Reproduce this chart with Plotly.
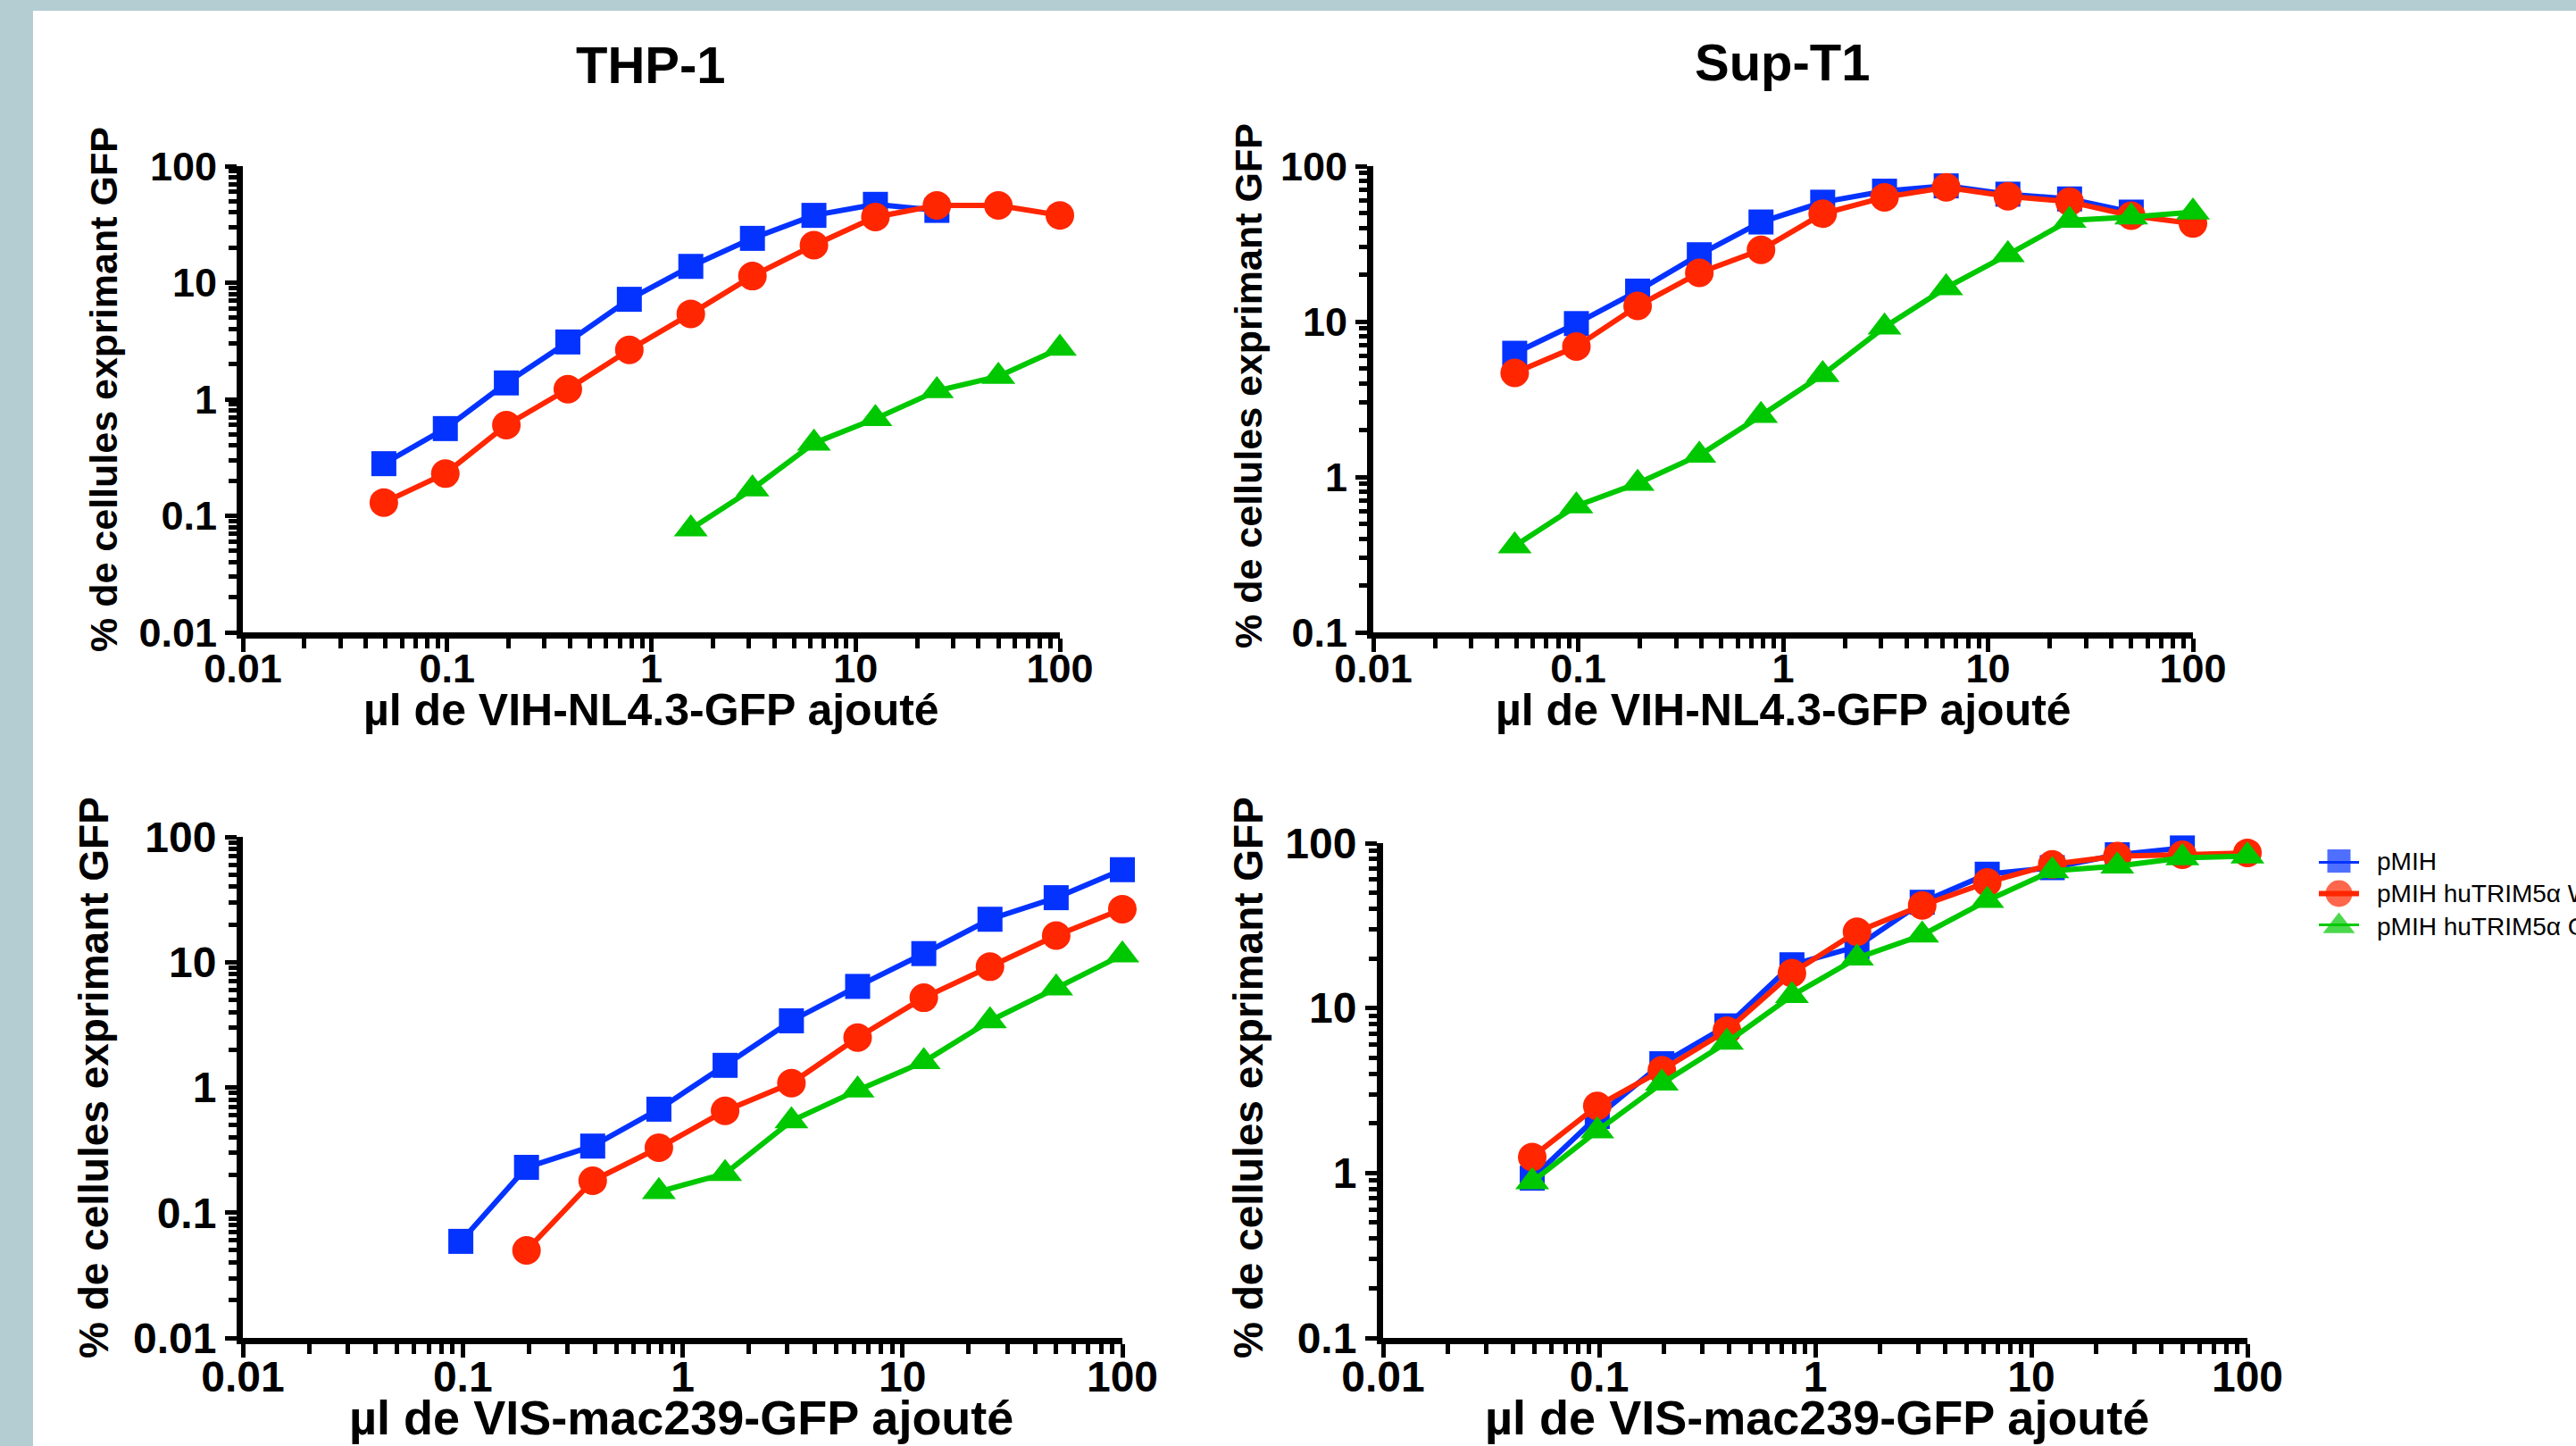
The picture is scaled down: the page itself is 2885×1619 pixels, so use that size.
import plotly.graph_objects as go

W, H = 2885, 1619
FONT = "Liberation Sans, Arial, Helvetica, sans-serif"

# ---------------- data ----------------
DOSES = [0.049, 0.098, 0.195, 0.39, 0.78, 1.56, 3.125, 6.25, 12.5, 25, 50, 100]

SERIES_NAMES = ["pMIH", "pMIH huTRIM5α WT", "pMIH huTRIM5α G"]
COLORS = ["#0433FF", "#FF2600", "#00C800"]
SYMBOLS = ["square", "circle", "triangle-up"]
SIZES = [28, 32, 33]

# THP-1, VIH-NL4.3
thp1_hiv_pmih = [0.28, 0.56, 1.38, 3.1, 7.2, 13.8, 24, 37.8, 47, 41.7]
thp1_hiv_wt = [0.13, 0.23, 0.6, 1.22, 2.65, 5.4, 11.4, 21, 36.6, 46, 46, 37.8]
thp1_hiv_mut = [0.077, 0.17, 0.42, 0.68, 1.18, 1.57, 2.73]

# Sup-T1, VIH-NL4.3
supt1_hiv_pmih = [6.25, 9.7, 15.7, 26.9, 43.7, 58.6, 69, 74.6, 66, 61.5, 50.6]
supt1_hiv_wt = [4.67, 6.9, 12.6, 20.6, 28.9, 49.4, 63, 73, 64, 59, 48, 42.7]
supt1_hiv_mut = [0.36, 0.65, 0.91, 1.38, 2.48, 4.55, 9.2, 16.5, 26.9, 44.8, 47, 50.6]

# THP-1, VIS-mac239
thp1_siv_pmih = [0.059, 0.23, 0.34, 0.67, 1.5, 3.4, 6.4, 11.7, 22, 32.7, 54.7]
thp1_siv_wt = [0.05, 0.18, 0.33, 0.65, 1.08, 2.5, 5.2, 9.2, 16.3, 26.5]
thp1_siv_mut = [0.147, 0.205, 0.54, 0.95, 1.6, 3.4, 6.2, 11.4]

# Sup-T1, VIS-mac239
supt1_siv_pmih = [0.93, 2.2, 4.6, 7.8, 18.3, 23.6, 43.8, 64.8, 71, 85, 93.5]
supt1_siv_wt = [1.25, 2.55, 4.2, 7.3, 16.3, 29, 41.9, 57.8, 74.3, 83.4, 85, 87.3]
supt1_siv_mut = [0.885, 1.8, 3.5, 6.2, 11.9, 20.1, 27.7, 44.9, 67.9, 72.6, 81.5, 83.4]

X_TICKS = [0.01, 0.1, 1, 10, 100]
X_TICKTEXT = ["0.01", "0.1", "1", "10", "100"]
Y_TICKS_A = [0.01, 0.1, 1, 10, 100]
Y_TICKTEXT_A = ["0.01", "0.1", "1", "10", "100"]
Y_TICKS_B = [0.1, 1, 10, 100]
Y_TICKTEXT_B = ["0.1", "1", "10", "100"]

TITLES = ["THP-1", "Sup-T1"]
XTITLE_HIV = "µl de VIH-NL4.3-GFP ajouté"
XTITLE_SIV = "µl de VIS-mac239-GFP ajouté"
YTITLE = "% de cellules exprimant GFP"

# ---------------- layout geometry (pixels) ----------------
panels = [
    dict(x0=272, x1=1187, yt=186, yb=708, ylo=-2, yt_vals=(Y_TICKS_A, Y_TICKTEXT_A),
         data=[(0, thp1_hiv_pmih), (0, thp1_hiv_wt), (5, thp1_hiv_mut)], s=1.0),
    dict(x0=1538, x1=2456, yt=186, yb=708, ylo=-1, yt_vals=(Y_TICKS_B, Y_TICKTEXT_B),
         data=[(0, supt1_hiv_pmih), (0, supt1_hiv_wt), (0, supt1_hiv_mut)], s=1.0),
    dict(x0=272, x1=1257, yt=937, yb=1498, ylo=-2, yt_vals=(Y_TICKS_A, Y_TICKTEXT_A),
         data=[(1, thp1_siv_pmih), (2, thp1_siv_wt), (4, thp1_siv_mut)], s=1.07),
    dict(x0=1549, x1=2517, yt=944, yb=1498, ylo=-1, yt_vals=(Y_TICKS_B, Y_TICKTEXT_B),
         data=[(0, supt1_siv_pmih), (0, supt1_siv_wt), (0, supt1_siv_mut)], s=1.07),
]

def minor_vals(lo, hi):
    out = []
    for e in range(lo, hi):
        for m in range(2, 10):
            out.append(m * 10 ** e)
    return out

fig = go.Figure()
layout = {}
for i, p in enumerate(panels):
    n = "" if i == 0 else str(i + 1)
    xa, ya = "x" + n, "y" + n
    for k, (start, vals) in enumerate(p["data"]):
        fig.add_trace(go.Scatter(
            x=DOSES[start:start + len(vals)], y=vals,
            xaxis=xa, yaxis=ya, mode="lines+markers",
            name=SERIES_NAMES[k], showlegend=False,
            line=dict(color=COLORS[k], width=6),
            marker=dict(symbol=SYMBOLS[k], size=SIZES[k], color=COLORS[k], line=dict(width=0)),
            cliponaxis=False,
        ))
    s = p["s"]
    tickfont = dict(family=FONT, size=round(45 * s), color="black", weight=700)
    layout["xaxis" + n] = dict(
        type="log", range=[-2, 2], domain=[p["x0"] / W, p["x1"] / W],
        anchor=ya, showline=True, linewidth=7, linecolor="black",
        ticks="outside", ticklen=15, tickwidth=5, tickcolor="black",
        tickvals=X_TICKS, ticktext=X_TICKTEXT, tickfont=tickfont,
        ticklabelstandoff=-20,
        minor=dict(ticks="outside", ticklen=11, tickwidth=5, tickcolor="black",
                   tickvals=minor_vals(-2, 2), showgrid=False),
        showgrid=False, zeroline=False,
    )
    layout["yaxis" + n] = dict(
        type="log", range=[p["ylo"], 2], domain=[1 - p["yb"] / H, 1 - p["yt"] / H],
        anchor=xa, showline=True, linewidth=7, linecolor="black",
        ticks="outside", ticklen=13, tickwidth=5, tickcolor="black",
        tickvals=p["yt_vals"][0], ticktext=p["yt_vals"][1], tickfont=tickfont,
        minor=dict(ticks="outside", ticklen=9, tickwidth=5, tickcolor="black",
                   tickvals=minor_vals(p["ylo"], 2), showgrid=False),
        showgrid=False, zeroline=False,
    )

# ---------------- legend (drawn on a hidden helper axis) ----------------
LEG_ROWS_Y = [964, 1000, 1037]   # pixel rows of the legend entries
LEG_X0, LEG_X1, LEG_TEXT_X = 2597, 2642, 2660
layout["xaxis5"] = dict(domain=[LEG_X0 / W, LEG_X1 / W], range=[0, 1], visible=False,
                        anchor="y5", fixedrange=True)
layout["yaxis5"] = dict(domain=[1 - LEG_ROWS_Y[2] / H, 1 - LEG_ROWS_Y[0] / H], range=[2, 0],
                        visible=False, anchor="x5", fixedrange=True)
for k in range(3):
    fig.add_trace(go.Scatter(
        x=[0, 0.5, 1], y=[k, k, k], xaxis="x5", yaxis="y5", mode="lines+markers",
        showlegend=False, hoverinfo="skip", cliponaxis=False,
        line=dict(color=COLORS[k], width=6),
        marker=dict(symbol=SYMBOLS[k], size=[0, SIZES[k] - 2, 0], color=COLORS[k], line=dict(width=0)),
    ))

annotations = []
def ann(text, x, y, size, angle=0, anchor="center", weight=700):
    annotations.append(dict(text=text, x=x / W, y=1 - y / H, xref="paper", yref="paper",
                            showarrow=False, textangle=angle, xanchor=anchor, yanchor="middle",
                            font=dict(family=FONT, size=size, color="black", weight=weight)))

ann(TITLES[0], 729, 72, 58)
ann(TITLES[1], 1996, 70, 58)
ann(XTITLE_HIV, 730, 795, 50)
ann(XTITLE_HIV, 1997, 795, 50)
ann(XTITLE_SIV, 763, 1587, 54)
ann(XTITLE_SIV, 2035, 1587, 54)
ann(YTITLE, 116, 436, 43, -90)
ann(YTITLE, 1398, 432, 43, -90)
ann(YTITLE, 105, 1207, 46, -90)
ann(YTITLE, 1398, 1207, 46, -90)
for k in range(3):
    ann(SERIES_NAMES[k], LEG_TEXT_X, LEG_ROWS_Y[k], 28, anchor="left", weight=400)

fig.update_layout(
    width=W, height=H,
    margin=dict(l=0, r=0, t=0, b=0, autoexpand=False),
    paper_bgcolor="#B3CDD3",
    plot_bgcolor="white",
    showlegend=False,
    shapes=[dict(type="rect", xref="paper", yref="paper", x0=37 / W, x1=1.0,
                 y0=0, y1=1 - 12 / H, fillcolor="white", line=dict(width=0), layer="below")],
    annotations=annotations,
    **layout,
)

fig.write_html("out.html", config={"displayModeBar": False},
               post_script="document.body.style.margin='0';document.body.style.overflow='hidden';")
